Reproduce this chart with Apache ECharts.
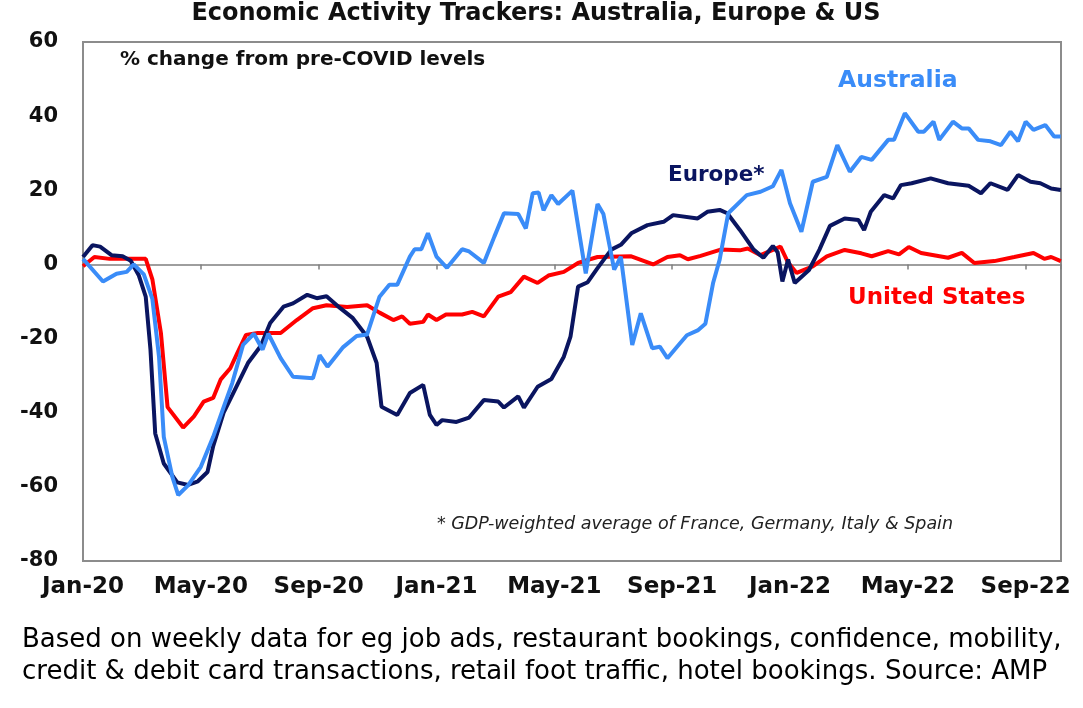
<!DOCTYPE html>
<html>
<head>
<meta charset="utf-8">
<script src="https://cdn.jsdelivr.net/npm/echarts@6/dist/echarts.min.js"></script>
<style>
  html, body { margin: 0; padding: 0; background: #fff; }
  #chart { width: 1083px; height: 708px; }
</style>
</head>
<body>
<div id="chart"></div>
<script>
// weekly trackers, % change from pre-COVID levels
var usDates = ['2020-01-01','2020-01-13','2020-01-29','2020-02-19','2020-03-05','2020-03-12','2020-03-21','2020-03-28',
  '2020-04-13','2020-04-24','2020-05-04','2020-05-14','2020-05-22','2020-06-01','2020-06-08','2020-06-17','2020-06-29',
  '2020-07-23','2020-08-09','2020-08-26','2020-09-09','2020-09-30','2020-10-21','2020-11-03','2020-11-17','2020-11-26',
  '2020-12-04','2020-12-18','2020-12-23','2021-01-01','2021-01-11','2021-01-28','2021-02-07','2021-02-18','2021-03-04',
  '2021-03-17','2021-03-31','2021-04-14','2021-04-25','2021-05-11','2021-05-26','2021-06-15','2021-07-20','2021-08-12',
  '2021-08-27','2021-09-09','2021-09-17','2021-09-30','2021-10-21','2021-11-10','2021-11-18','2021-12-01','2021-12-22',
  '2021-12-30','2022-01-08','2022-01-25','2022-02-08','2022-02-25','2022-03-14','2022-03-25','2022-04-11','2022-04-22',
  '2022-05-02','2022-05-15','2022-06-12','2022-06-26','2022-07-09','2022-07-30','2022-08-20','2022-09-09','2022-09-20',
  '2022-09-27','2022-10-07'];
var usValues = [-0.5, 2, 1.5, 1.5, 1.5, -4, -18.5, -38.5,
  -44, -41, -37, -36, -31, -28, -24, -19, -18.5,
  -18.5, -15, -11.8, -11, -11.5, -11, -13, -15, -14,
  -16, -15.5, -13.5, -15, -13.5, -13.5, -12.8, -14, -8.7,
  -7.5, -3.3, -5, -3, -2, 0.4, 2, 2.2, 0,
  2, 2.5, 1.4, 2.3, 4, 3.8, 4.3, 2.5, 4.8,
  0.5, -2.3, -0.5, 2.2, 3.9, 3, 2.2, 3.6, 2.7,
  4.7, 3.1, 1.8, 3.1, 0.4, 0.9, 2, 3.1, 1.5,
  2, 0.9];

var euDates = ['2020-01-01','2020-01-11','2020-01-19','2020-01-31','2020-02-11','2020-02-19','2020-02-27','2020-03-05',
  '2020-03-10','2020-03-15','2020-03-24','2020-04-07','2020-04-18','2020-04-28','2020-05-08','2020-05-14','2020-05-25',
  '2020-06-04','2020-06-19','2020-07-02','2020-07-12','2020-07-26','2020-08-05','2020-08-20','2020-08-30','2020-09-09',
  '2020-09-23','2020-10-06','2020-10-21','2020-10-31','2020-11-05','2020-11-21','2020-12-04','2020-12-18','2020-12-25',
  '2021-01-01','2021-01-07','2021-01-22','2021-02-04','2021-02-18','2021-03-04','2021-03-10','2021-03-25','2021-03-31',
  '2021-04-14','2021-04-28','2021-05-11','2021-05-18','2021-05-26','2021-06-05','2021-06-15','2021-06-29','2021-07-09',
  '2021-07-20','2021-08-06','2021-08-23','2021-09-02','2021-09-27','2021-10-07','2021-10-20','2021-10-28','2021-11-10',
  '2021-11-24','2021-12-04','2021-12-14','2021-12-19','2021-12-24','2021-12-30','2022-01-06','2022-01-21','2022-02-01',
  '2022-02-11','2022-02-25','2022-03-11','2022-03-17','2022-03-24','2022-04-07','2022-04-16','2022-04-24','2022-05-05',
  '2022-05-25','2022-06-12','2022-07-03','2022-07-16','2022-07-26','2022-08-13','2022-08-24','2022-09-06','2022-09-16',
  '2022-09-27','2022-10-07'];
var euValues = [2, 5.2, 4.8, 2.5, 2.2, 1, -3, -8.7,
  -23, -45.6, -53.7, -58.8, -59.5, -58.5, -56, -49, -40,
  -34.7, -26.6, -22, -15.8, -11.4, -10.5, -8.2, -9.1, -8.6,
  -11.8, -14.5, -19.5, -26.6, -38.4, -40.6, -34.7, -32.5, -40.6,
  -43.3, -42, -42.5, -41.3, -36.6, -37, -38.6, -35.6, -38.6,
  -33, -30.9, -24.9, -19.5, -6, -4.8, -1, 4, 5.3,
  8.4, 10.6, 11.5, 13.3, 12.4, 14.2, 14.7, 13.8, 9.3,
  4, 1.8, 5, 3.3, -4.6, 1.3, -5, -1.5, 4,
  10.4, 12.4, 12, 9.3, 14.2, 18.7, 17.8, 21.4, 21.9,
  23.2, 21.9, 21.2, 19.2, 21.9, 20.1, 24.1, 22.3, 21.9,
  20.5, 20.1];

var auDates = ['2020-01-01','2020-01-22','2020-02-05','2020-02-15','2020-02-22','2020-03-03','2020-03-12','2020-03-19',
  '2020-03-24','2020-04-02','2020-04-08','2020-04-18','2020-05-01','2020-05-14','2020-05-25','2020-06-03','2020-06-14',
  '2020-06-25','2020-07-04','2020-07-10','2020-07-23','2020-08-05','2020-08-26','2020-09-02','2020-09-10','2020-09-26',
  '2020-10-10','2020-10-21','2020-11-03','2020-11-13','2020-11-21','2020-12-04','2020-12-09','2020-12-16','2020-12-23',
  '2021-01-01','2021-01-12','2021-01-28','2021-02-04','2021-02-18','2021-02-28','2021-03-10','2021-03-25','2021-04-02',
  '2021-04-09','2021-04-15','2021-04-20','2021-04-28','2021-05-05','2021-05-20','2021-06-03','2021-06-15','2021-06-21',
  '2021-07-02','2021-07-09','2021-07-21','2021-07-30','2021-08-11','2021-08-19','2021-08-27','2021-09-06','2021-09-16',
  '2021-09-27','2021-10-05','2021-10-13','2021-10-20','2021-10-29','2021-11-17','2021-12-01','2021-12-14','2021-12-23',
  '2022-01-01','2022-01-13','2022-01-25','2022-02-08','2022-02-18','2022-03-02','2022-03-14','2022-03-25','2022-04-11',
  '2022-04-17','2022-04-28','2022-05-12','2022-05-18','2022-05-28','2022-06-03','2022-06-17','2022-06-26','2022-07-03',
  '2022-07-13','2022-07-26','2022-08-06','2022-08-16','2022-08-24','2022-09-01','2022-09-09','2022-09-21','2022-09-30',
  '2022-10-07'];
var auValues = [1.5, -4.6, -2.5, -2, 0, -2.7, -9.3, -24.9,
  -46.5, -57.3, -62.2, -59.6, -54.6, -46.5, -38.5, -32, -21.7,
  -18.7, -23, -18.7, -25.3, -30.3, -30.7, -24.5, -27.6, -22.3,
  -19.3, -18.9, -8.7, -5.5, -5.5, 2.1, 4.1, 4.1, 8.4,
  2.1, -0.9, 4.1, 3.5, 0.4, 7.5, 13.8, 13.6, 9.7,
  19.2, 19.4, 14.6, 18.7, 16.3, 19.9, -2.4, 16.3, 13.6,
  -1.4, 2.1, -21.7, -13.2, -22.6, -22.2, -25.3, -22.2, -19.1,
  -17.8, -16, -5.1, 1.3, 13.8, 18.7, 19.6, 21.1, 25.5,
  16.5, 8.8, 22.3, 23.6, 32.2, 25, 29, 28.2, 33.6,
  33.6, 40.8, 35.8, 35.8, 38.5, 33.6, 38.5, 36.7, 36.7,
  33.6, 33.2, 32.2, 35.8, 33.2, 38.5, 36.3, 37.6, 34.5,
  34.5];

var monthNames = ['Jan','Feb','Mar','Apr','May','Jun','Jul','Aug','Sep','Oct','Nov','Dec'];

// months since Jan 2020, fractional
function toMonth(s) {
  var p = s.split('-');
  var y = +p[0], m = +p[1], d = +p[2];
  var dim = new Date(y, m, 0).getDate();
  return (y - 2020) * 12 + (m - 1) + (d - 1) / dim;
}
function pairs(dates, vals) {
  return dates.map(function (d, i) { return [toMonth(d), vals[i]]; });
}

var chart = echarts.init(document.getElementById('chart'));
var boldFont = 'DejaVu Sans';

var option = {
  animation: false,
  backgroundColor: '#fff',
  grid: { left: 83, right: 22, top: 42, bottom: 147, show: true, borderColor: '#8c8c8c', borderWidth: 2 },
  xAxis: [{
    type: 'value', min: 0, max: 33.2, interval: 4,
    axisLine: { onZero: true, lineStyle: { color: '#7f7f7f', width: 1.5 } },
    axisTick: { show: true, length: 5, lineStyle: { color: '#7f7f7f', width: 1.5 } },
    axisLabel: { show: false },
    splitLine: { show: false }
  }, {
    type: 'value', min: 0, max: 33.2, interval: 4, position: 'bottom',
    axisLine: { show: false, onZero: false },
    axisTick: { show: false },
    splitLine: { show: false },
    axisLabel: {
      margin: 15, color: '#111', fontFamily: boldFont, fontWeight: 'bold', fontSize: 23,
      showMaxLabel: false,
      formatter: function (v) {
        return monthNames[v % 12] + '-' + (20 + Math.floor(v / 12));
      }
    }
  }],
  yAxis: {
    type: 'value', min: -80, max: 60, interval: 20,
    axisLine: { show: false }, axisTick: { show: false }, splitLine: { show: false },
    axisLabel: { margin: 25, color: '#111', fontFamily: boldFont, fontWeight: 'bold', fontSize: 21 }
  },
  series: [{
    name: 'United States', type: 'line', data: pairs(usDates, usValues), showSymbol: false,
    lineStyle: { color: '#ff0000', width: 4 }, z: 3
  }, {
    name: 'Europe*', type: 'line', data: pairs(euDates, euValues), showSymbol: false,
    lineStyle: { color: '#0a1560', width: 4 }, z: 4
  }, {
    name: 'Australia', type: 'line', data: pairs(auDates, auValues), showSymbol: false,
    lineStyle: { color: '#3a8cf8', width: 4 }, z: 5
  }],
  graphic: [
    { type: 'text', x: 536, y: 14, style: { text: 'Economic Activity Trackers: Australia, Europe & US',
      font: 'bold 24px "DejaVu Sans"', fill: '#111', align: 'center', verticalAlign: 'middle' } },
    { type: 'text', x: 120, y: 60, style: { text: '% change from pre-COVID levels', font: 'bold 20px "DejaVu Sans"',
      fill: '#111', verticalAlign: 'middle' } },
    { type: 'text', x: 838, y: 81, style: { text: 'Australia', font: 'bold 23.5px "DejaVu Sans"',
      fill: '#3a8cf8', verticalAlign: 'middle' } },
    { type: 'text', x: 668, y: 175, style: { text: 'Europe*', font: 'bold 21.5px "DejaVu Sans"',
      fill: '#0a1560', verticalAlign: 'middle' } },
    { type: 'text', x: 848, y: 298, style: { text: 'United States', font: 'bold 23px "DejaVu Sans"',
      fill: '#ff0000', verticalAlign: 'middle' } },
    { type: 'text', x: 437, y: 524, style: { text: '* GDP-weighted average of France, Germany, Italy & Spain',
      font: 'italic 17.5px "DejaVu Sans"', fill: '#222', verticalAlign: 'middle' } },
    { type: 'text', x: 22, y: 640, style: { text: 'Based on weekly data for eg job ads, restaurant bookings, confidence, mobility,',
      font: '26px "DejaVu Sans"', fill: '#000', verticalAlign: 'middle' } },
    { type: 'text', x: 22, y: 672, style: { text: 'credit & debit card transactions, retail foot traffic, hotel bookings. Source: AMP',
      font: '26px "DejaVu Sans"', fill: '#000', verticalAlign: 'middle' } }
  ]
};
chart.setOption(option);
</script>
</body>
</html>
